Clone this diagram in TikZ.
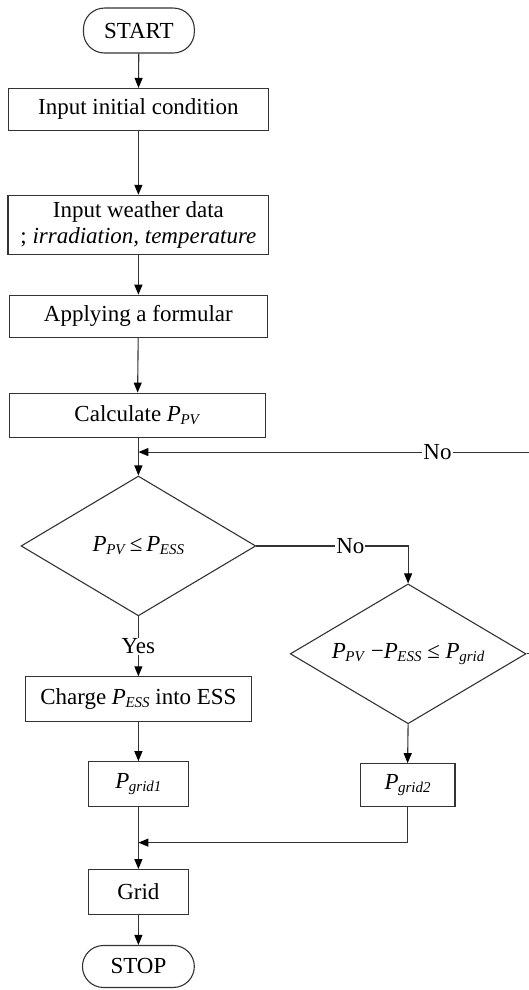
\documentclass[tikz,border=0pt]{standalone}
\usepackage{fontspec}
\setmainfont{Liberation Serif}
\usetikzlibrary{shapes.geometric,arrows.meta}
% variable with italic subscript, e.g. P_{PV}
\newcommand\symvar[2]{\textit{#1}\kern-0.02em\raisebox{-0.3ex}{\fontsize{15}{15}\selectfont\textit{#2}}}
\begin{document}
\begin{tikzpicture}[x=1pt,y=-1pt,
  font=\fontsize{23}{26}\selectfont,
  every path/.style={draw=black!80,line width=1.1pt},
  proc/.style={draw=black!80,line width=1.1pt,rectangle,inner sep=0pt,align=center},
  term/.style={draw=black!80,line width=1.1pt,rectangle,rounded corners=21pt,inner sep=0pt},
  decide/.style={draw=black!80,line width=1.1pt,diamond,inner sep=0pt,aspect=1.7},
  flow/.style={-{Triangle[length=10pt,width=8pt,color=black,fill=black]}},
  lbl/.style={fill=white,inner sep=1pt}]
\useasboundingbox (0,0) rectangle (528,990);
\fill[white] (0,0) rectangle (528,990);

\node[term,minimum width=111,minimum height=45] (start) at (138.5,30) {START};
\node[proc,minimum width=260,minimum height=42] (init) at (138,109) {Input initial condition};
\node[proc,minimum width=261,minimum height=59] (weather) at (138,224.5)
  {Input weather data\\; \textit{irradiation, temperature}};
\node[proc,minimum width=258,minimum height=42] (apply) at (138,316) {Applying a formular};
\node[proc,minimum width=256,minimum height=44] (calc) at (137,415) {Calculate \symvar{P}{PV}};
\coordinate (join) at (138,452);

\node[decide,minimum width=235,minimum height=140] (d1) at (138,546)
  {\symvar{P}{PV}\,≤\,\symvar{P}{ESS}};
\node[decide,minimum width=236,minimum height=140] (d2) at (408,654)
  {\symvar{P}{PV} −\symvar{P}{ESS} ≤ \symvar{P}{grid}};

\node[proc,minimum width=226,minimum height=45] (charge) at (138,699.5)
  {Charge \symvar{P}{ESS} into ESS};
\node[proc,minimum width=100,minimum height=45] (g1) at (138,784.5) {\symvar{P}{grid1}};
\node[proc,minimum width=95,minimum height=43] (g2) at (407.5,785.5) {\symvar{P}{grid2}};
\coordinate (merge) at (138,843);
\node[proc,minimum width=100,minimum height=45] (grid) at (138,892.5) {Grid};
\node[term,minimum width=112,minimum height=42] (stop) at (138,967) {STOP};

% main column
\draw[flow] (start) -- (init);
\draw[flow] (init) -- (weather);
\draw[flow] (weather) -- (apply);
\draw[flow] (apply) -- (calc);
\draw[flow] (calc.south -| join) -- (d1.north);
\draw[flow] (d1.south) -- node[lbl,pos=0.5]{Yes} (charge.north);
\draw[flow] (charge) -- (g1);
\draw[flow] (g1) -- (grid);
\draw[flow] (grid) -- (stop);

% "No" branch to the second test
\draw[flow] (d1.east) -- node[lbl,pos=0.62]{No} (d1.east -| d2.north) -- (d2.north);
\draw[flow] (d2.south) -- (g2.north);

% loop back from the second test (its vertical run lies past the right margin)
\coordinate (back) at (532,654);
\draw[flow] (d2.east) -- (back) -- (back |- join) -- node[lbl,pos=0.24]{No} (join);

% merge into the grid box
\draw[flow] (g2.south) -- (g2.south |- merge) -- (merge);
\end{tikzpicture}
\end{document}
